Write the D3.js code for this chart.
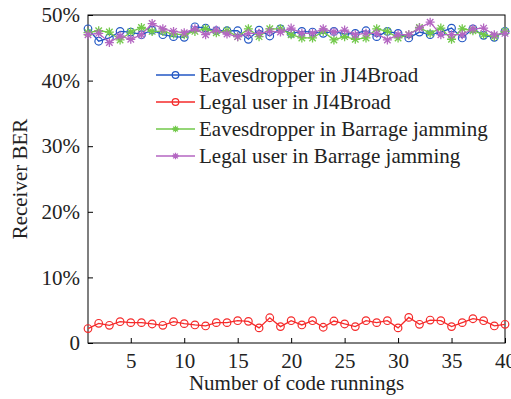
<!DOCTYPE html>
<html>
<head>
<meta charset="utf-8">
<script src="https://cdn.jsdelivr.net/npm/d3@7"></script>
<style>
  body { margin: 0; background: #fff; }
</style>
</head>
<body>
<div id="viz-chart"></div>
<script>
const runs = d3.range(1, 41);

const eveJI4 = [47.9, 46.0, 46.5, 47.5, 47.4, 47.0, 47.7, 47.0, 46.7, 46.6,
  48.2, 48.0, 47.6, 47.6, 47.6, 46.3, 47.7, 46.8, 47.9, 47.2,
  47.5, 47.4, 47.2, 47.5, 47.1, 47.2, 47.6, 46.7, 47.5, 47.2,
  46.5, 47.4, 47.0, 47.4, 48.0, 46.5, 47.9, 46.9, 46.6, 47.5];
const legalJI4 = [2.2, 3.0, 2.7, 3.25, 3.1, 3.1, 2.9, 2.7, 3.25, 2.95,
  2.75, 2.6, 3.1, 3.1, 3.4, 3.3, 2.3, 3.85, 2.5, 3.4,
  2.75, 3.4, 2.4, 3.35, 2.9, 2.5, 3.4, 3.1, 3.4, 2.3,
  3.9, 2.85, 3.5, 3.4, 2.5, 3.1, 3.7, 3.4, 2.6, 2.85];
const eveBarrage = [47.3, 47.6, 47.4, 46.2, 47.4, 48.1, 47.5, 47.5, 47.1, 47.0,
  47.5, 47.9, 47.3, 47.6, 46.7, 47.9, 46.7, 47.9, 47.9, 47.0,
  46.5, 46.5, 47.5, 46.2, 46.7, 46.3, 46.5, 47.9, 47.5, 46.5,
  47.0, 48.1, 47.2, 48.0, 46.3, 47.9, 47.6, 47.0, 46.7, 47.5];
const legalBarrage = [47.0, 47.2, 45.8, 46.8, 46.3, 47.0, 48.7, 47.9, 47.5, 47.3,
  47.9, 47.0, 47.7, 47.1, 46.7, 47.2, 47.2, 47.5, 47.4, 48.0,
  47.2, 47.2, 47.9, 47.4, 47.7, 47.0, 47.2, 47.2, 46.2, 47.0,
  47.0, 48.0, 48.9, 47.0, 47.0, 47.0, 47.9, 48.0, 47.0, 47.2];

const seriesNames = ["Eavesdropper in JI4Broad", "Legal user in JI4Broad",
  "Eavesdropper in Barrage jamming", "Legal user in Barrage jamming"];
const seriesValues = [eveJI4, legalJI4, eveBarrage, legalBarrage];
const seriesColors = ["#2257c4", "#f52a2a", "#72c94a", "#b466c2"];
const seriesMarkers = ["circle", "circle", "star", "star"];

const xTicks = [5, 10, 15, 20, 25, 30, 35, 40];
const yTicks = [0, 10, 20, 30, 40, 50];

const width = 511, height = 399;
const m = { left: 88, right: 505, top: 15, bottom: 343 };
const serif = "serif";

const svg = d3.select("#viz-chart")
  .append("svg")
  .attr("width", width)
  .attr("height", height);

const x = d3.scaleLinear().domain([1, 40]).range([m.left, m.right]);
const y = d3.scaleLinear().domain([0, 50]).range([m.bottom, m.top]);

// axes with inward ticks
const xAxis = svg.append("g")
  .attr("transform", `translate(0,${m.bottom})`)
  .call(d3.axisBottom(x).tickValues(xTicks).tickSize(-5).tickPadding(10).tickFormat(d3.format("d")));
const yAxis = svg.append("g")
  .attr("transform", `translate(${m.left},0)`)
  .call(d3.axisLeft(y).tickValues(yTicks).tickSize(-5).tickPadding(8)
    .tickFormat((d) => (d === 0 ? "0" : d + "%")));

[xAxis, yAxis].forEach((g) => {
  g.attr("font-family", null).attr("font-size", null);
  g.select(".domain").remove();
  g.selectAll("line").attr("stroke", "#000");
  g.selectAll("text").attr("fill", "#222")
    .style("font-family", serif).style("font-size", "21px");
});
xAxis.selectAll("text").attr("dy", "0.71em");

svg.append("rect")
  .attr("x", m.left).attr("y", m.top)
  .attr("width", m.right - m.left).attr("height", m.bottom - m.top)
  .attr("fill", "none").attr("stroke", "#000").attr("stroke-width", 1);

const line = d3.line().x((d, i) => x(runs[i])).y((d) => y(d));

function drawMarker(g, type, color, cx, cy, r) {
  if (type === "circle") {
    g.append("circle").attr("cx", cx).attr("cy", cy).attr("r", r)
      .attr("fill", "none").attr("stroke", color).attr("stroke-width", 1.2);
  } else {
    const p = d3.path();
    const a = r * 0.72;
    p.moveTo(cx - r, cy); p.lineTo(cx + r, cy);
    p.moveTo(cx, cy - r); p.lineTo(cx, cy + r);
    p.moveTo(cx - a, cy - a); p.lineTo(cx + a, cy + a);
    p.moveTo(cx - a, cy + a); p.lineTo(cx + a, cy - a);
    g.append("path").attr("d", p.toString())
      .attr("stroke", color).attr("stroke-width", 1.3).attr("fill", "none");
  }
}

seriesValues.forEach((vals, k) => {
  const g = svg.append("g");
  g.append("path").datum(vals)
    .attr("d", line)
    .attr("fill", "none")
    .attr("stroke", seriesColors[k])
    .attr("stroke-width", 1.3);
  vals.forEach((v, i) => {
    drawMarker(g, seriesMarkers[k], seriesColors[k], x(runs[i]), y(v),
      seriesMarkers[k] === "circle" ? 3.8 : 4.5);
  });
});

// legend
const legend = svg.append("g");
seriesNames.forEach((name, k) => {
  const ly = 75 + k * 27;
  legend.append("line")
    .attr("x1", 156).attr("x2", 195).attr("y1", ly).attr("y2", ly)
    .attr("stroke", seriesColors[k]).attr("stroke-width", 1.3);
  drawMarker(legend, seriesMarkers[k], seriesColors[k], 175.5, ly, 3.3);
  legend.append("text")
    .attr("x", 199).attr("y", ly)
    .attr("dy", "0.35em")
    .attr("fill", "#222")
    .style("font-family", serif)
    .style("font-size", "21px")
    .text(name);
});

// axis titles
svg.append("text")
  .attr("x", (m.left + m.right) / 2).attr("y", 390)
  .attr("text-anchor", "middle")
  .attr("fill", "#222")
  .style("font-family", serif)
  .style("font-size", "21px")
  .text("Number of code runnings");

svg.append("text")
  .attr("transform", `translate(27,${(m.top + m.bottom) / 2}) rotate(-90)`)
  .attr("text-anchor", "middle")
  .attr("fill", "#222")
  .style("font-family", serif)
  .style("font-size", "21px")
  .text("Receiver BER");
</script>
</body>
</html>
